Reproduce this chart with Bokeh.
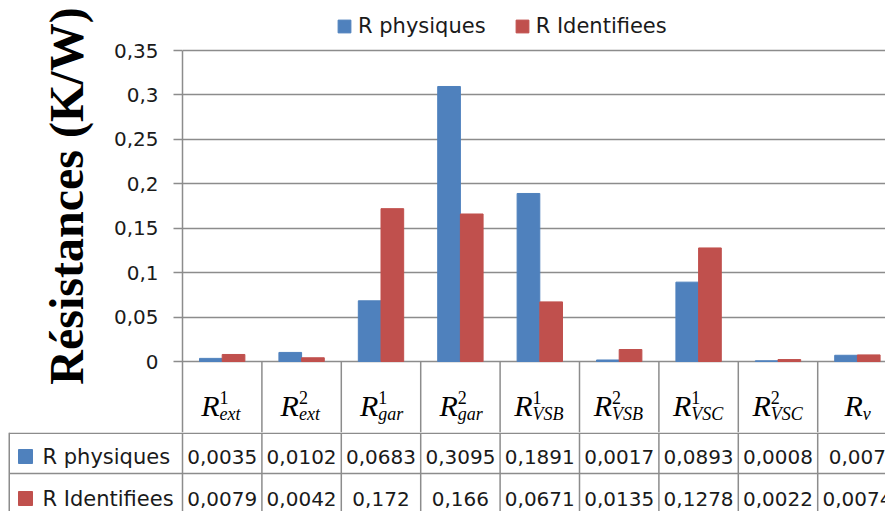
import numpy as np
from bokeh.plotting import figure
from bokeh.models import (Range1d, FixedTicker, CustomJSTickFormatter, Legend,
                          LegendItem, ColumnDataSource)
from bokeh.layouts import column, row
from bokeh.embed import file_html
from bokeh.resources import INLINE
from bokeh.core.properties import value

# ---------------- data ----------------
sup_labels = ["1", "2", "1", "2", "1", "2", "1", "2", ""]
sub_labels = ["ext", "ext", "gar", "gar", "VSB", "VSB", "VSC", "VSC", "v"]
r_physiques = [0.0035, 0.0102, 0.0683, 0.3095, 0.1891, 0.0017, 0.0893, 0.0008, 0.007]
r_identifiees = [0.0079, 0.0042, 0.172, 0.166, 0.0671, 0.0135, 0.1278, 0.0022, 0.0074]
series_names = ["R physiques", "R Identifiees"]
y_ticks = [0, 0.05, 0.1, 0.15, 0.2, 0.25, 0.3, 0.35]
y_title = "Résistances (K/W)"

# ---------------- style / layout ----------------
BLUE = "#4F81BD"
RED = "#C0504D"
LINE = "#8c8c8c"
TXT = "#1a1a1a"
SANS = "DejaVu Sans"
SERIF = "Liberation Serif"

W = 885
H = 511
TITLE_W = 110
CAT_PX = 79.4          # px per category
AXIS_X = 182           # frame left (page px)
TOP_H = 432
TAB_H = H - TOP_H
ZERO_PX = 361
MAX_PX = 50
PPU = (ZERO_PX - MAX_PX) / 0.35
y_start = -(TOP_H - ZERO_PX) / PPU
y_end = 0.35 + MAX_PX / PPU
x_end = (W - AXIS_X) / CAT_PX
x_left = -AXIS_X / CAT_PX


def py(px):
    """page pixel row -> value units of the chart"""
    return (ZERO_PX - px) / PPU


n = len(r_physiques)
xc = np.arange(n) + 0.5
bw = 1 / 3.5

common = dict(output_backend="svg", toolbar_location=None,
              outline_line_color=None, background_fill_color="white",
              border_fill_color="white", frame_align=False)

# ---------------- y title strip ----------------
tfig = figure(width=TITLE_W, height=TOP_H, x_range=Range1d(0, TITLE_W),
              y_range=Range1d(TOP_H, 0), x_axis_type=None, y_axis_type=None,
              min_border=0, min_border_left=0, min_border_right=0,
              min_border_top=0, min_border_bottom=0, **common)
tfig.xgrid.visible = False
tfig.ygrid.visible = False
tfig.text(x=[66], y=[195.5], text=[y_title], angle=np.pi / 2,
          text_align="center", text_baseline="alphabetic",
          text_font=value(SERIF), text_font_style="bold",
          text_font_size="48px", text_color="black")

# ---------------- chart ----------------
top = figure(width=W - TITLE_W, height=TOP_H, x_range=Range1d(0, x_end),
             y_range=Range1d(y_start, y_end), x_axis_type=None,
             min_border_left=AXIS_X - TITLE_W, min_border_right=0,
             min_border_top=0, min_border_bottom=0, **common)

src = ColumnDataSource(dict(x1=xc - bw / 2, x2=xc + bw / 2,
                            phys=r_physiques, ident=r_identifiees))
r1 = top.vbar(x="x1", top="phys", width=bw, source=src,
              fill_color=BLUE, line_color=BLUE)
r2 = top.vbar(x="x2", top="ident", width=bw, source=src,
              fill_color=RED, line_color=RED)

ax = top.yaxis[0]
ax.ticker = FixedTicker(ticks=y_ticks)
ax.formatter = CustomJSTickFormatter(
    code="return (Math.round(tick*100)/100).toString().replace('.', ',');")
ax.bounds = (y_start, 0.35)
ax.axis_line_color = LINE
ax.axis_line_width = 1.5
ax.major_tick_line_color = LINE
ax.major_tick_line_width = 1.5
ax.major_tick_out = 9
ax.major_tick_in = 0
ax.minor_tick_line_color = None
ax.major_label_standoff = 15
ax.major_label_text_font = SANS
ax.major_label_text_font_size = "20px"
ax.major_label_text_color = TXT

top.ygrid.ticker = FixedTicker(ticks=y_ticks)
top.ygrid.grid_line_color = LINE
top.ygrid.grid_line_width = 1.5
top.xgrid.visible = False

legend = Legend(items=[LegendItem(label=series_names[0], renderers=[r1]),
                       LegendItem(label=series_names[1], renderers=[r2])],
                orientation="horizontal", location=(154, 394),
                glyph_width=16, glyph_height=16, label_standoff=6,
                spacing=28, padding=0, margin=0, label_height=16,
                label_text_font=SANS, label_text_font_size="21px",
                label_text_color=TXT, border_line_color=None,
                background_fill_alpha=0)
top.add_layout(legend)

# header row of the data table (category labels R^a_b)
kx = np.arange(1, n + 1).astype(float)
top.segment(x0=kx, y0=np.zeros(n), x1=kx, y1=np.full(n, y_start),
            line_color=LINE, line_width=1.5)


def est_w(s, size):
    return sum(0.62 if c.isupper() else 0.45 for c in s) * size


RW = 19
offs = [(RW - est_w(s, 18)) / 2 for s in sub_labels]
hsrc = ColumnDataSource(dict(x=xc, off=offs, sub=sub_labels, sup=sup_labels))
top.text(x="x", y=py(405), text=value("R"), x_offset="off", source=hsrc,
         text_align="right", text_baseline="alphabetic",
         text_font=value(SERIF), text_font_style="italic",
         text_font_size="30px", text_color="black")
top.text(x="x", y=py(397), text="sup", x_offset="off", source=hsrc,
         text_align="left", text_baseline="alphabetic",
         text_font=value(SERIF), text_font_size="18px", text_color="black")
top.text(x="x", y=py(413), text="sub", x_offset="off", source=hsrc,
         text_align="left", text_baseline="alphabetic",
         text_font=value(SERIF), text_font_style="italic",
         text_font_size="18px", text_color="black")

# ---------------- data table rows ----------------
tab = figure(width=W, height=TAB_H, x_range=Range1d(x_left, x_end),
             y_range=Range1d(TAB_H, 0), x_axis_type=None, y_axis_type=None,
             min_border=0, min_border_left=0, min_border_right=0,
             min_border_top=0, min_border_bottom=0, **common)
tab.xgrid.visible = False
tab.ygrid.visible = False

ROW_LINES = [0.75, 41]
k0 = np.arange(n + 1).astype(float)
tab.segment(x0=k0, y0=np.zeros(n + 1), x1=k0, y1=np.full(n + 1, TAB_H),
            line_color=LINE, line_width=1.5)
lx = x_left + 8.75 / CAT_PX
tab.segment(x0=[lx, lx], y0=ROW_LINES, x1=[x_end, x_end], y1=ROW_LINES,
            line_color=LINE, line_width=1.5)
tab.segment(x0=[lx], y0=[0], x1=[lx], y1=[TAB_H], line_color=LINE,
            line_width=1.5)

fmt = lambda v: repr(v).replace(".", ",")
row_y = [24, 66]
for vals, yy in zip([r_physiques, r_identifiees], row_y):
    tab.text(x=xc, y=[yy] * n, text=[fmt(v) for v in vals],
             text_align="center", text_baseline="middle",
             text_font=value(SANS), text_font_size="20px", text_color=TXT)

sq_x = x_left + 25 / CAT_PX
tab.scatter(x=[sq_x, sq_x], y=row_y, marker="square", size=14,
            fill_color=[BLUE, RED], line_color=[BLUE, RED])
tab.text(x=[x_left + 42 / CAT_PX] * 2, y=row_y, text=series_names,
         text_align="left", text_baseline="middle",
         text_font=value(SANS), text_font_size="21px", text_color=TXT)

layout = column(row(tfig, top, spacing=0), tab, spacing=0)
open("out.html", "w").write(file_html(layout, INLINE))
